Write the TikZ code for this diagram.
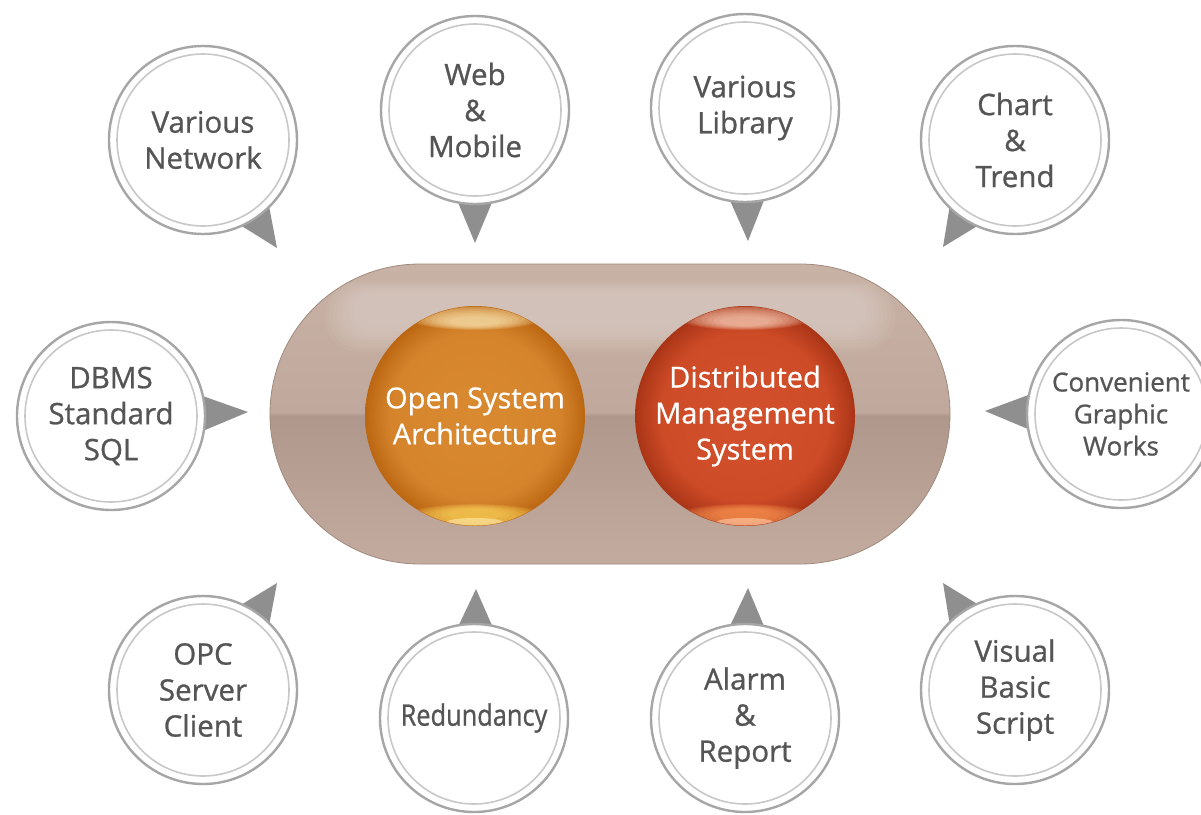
\documentclass[tikz,border=0pt]{standalone}
\usepackage{fontspec}
\setmainfont{Open Sans}[FakeBold=0.9]
\newfontfamily\ballfont{Open Sans}[FakeBold=0.6]
\usetikzlibrary{calc,shapes.geometric,shapes.misc,backgrounds}
\definecolor{ringout}{HTML}{A6A6A6}
\definecolor{ringin}{HTML}{C8C8C8}
\definecolor{ptrgray}{HTML}{8F8F8F}
\definecolor{txtgray}{HTML}{555555}
\definecolor{pillborder}{HTML}{A08A7D}
\definecolor{pilltop}{HTML}{C8B2A5}
\definecolor{pillmidup}{HTML}{C0A99C}
\definecolor{pillmiddn}{HTML}{AF988B}
\definecolor{pillbot}{HTML}{C3AC9F}
\definecolor{obright}{HTML}{D98A30}
\definecolor{omid}{HTML}{D5842C}
\definecolor{odark}{HTML}{BB6612}
\definecolor{oglow}{HTML}{FFD85E}
\definecolor{rbright}{HTML}{D2512C}
\definecolor{rmid}{HTML}{CE4B27}
\definecolor{rdark}{HTML}{A83416}
\definecolor{rglow}{HTML}{FF9A55}
\pgfdeclareverticalshading{pillshade}{100bp}{color(0bp)=(pillbot); color(25bp)=(pillbot); color(49.7bp)=(pillmiddn); color(50.3bp)=(pillmidup); color(75bp)=(pilltop); color(100bp)=(pilltop)}
\pgfdeclareradialshading{orangeball}{\pgfpoint{0bp}{0bp}}{color(0bp)=(obright); color(19bp)=(omid); color(23.5bp)=(odark!70!omid); color(25bp)=(odark); color(50bp)=(odark)}
\pgfdeclareradialshading{redball}{\pgfpoint{0bp}{0bp}}{color(0bp)=(rbright); color(19bp)=(rmid); color(23.5bp)=(rdark!70!rmid); color(25bp)=(rdark); color(50bp)=(rdark)}
\tikzset{
  bubble/.style={circle, draw=ringout, line width=2.4pt, fill=white, minimum size=188pt, inner sep=0pt,
    align=center, text=txtgray, font=\fontsize{29.5}{36}\selectfont,
    path picture={\draw[ringin, line width=1.6pt] (path picture bounding box.center) circle (86pt);}},
  ptr/.style={fill=ptrgray},
  ballnode/.style={circle, minimum size=220pt, inner sep=0pt},
  balltext/.style={align=center, text=white, font=\ballfont\fontsize{29}{36}\selectfont},
}
\begin{document}
\begin{tikzpicture}[x=1pt,y=-1pt]
\useasboundingbox (0,0) rectangle (1201,814);

% central pill
\node[rounded rectangle, minimum width=680pt, minimum height=300pt, inner sep=0pt,
      shading=pillshade, draw=pillborder, line width=0.8pt] (pill) at (610,414) {};
% soft gloss on the pill
\foreach \k in {0,...,7}
  \fill[white, fill opacity=0.04, rounded corners={34pt-2*\k pt}]
    ($(pill.center)+(-285+4*\k,-132+1.5*\k)$) rectangle ($(pill.center)+(285-4*\k,-62-3*\k)$);

% balls
\node[ballnode, shading=orangeball] (osa) at (475,416) {};
\node[ballnode, shading=redball] (dms) at (745,416) {};
\begin{scope}
  \clip (osa.center) circle (109.5pt);
  \foreach \k in {0,...,7}{
    \fill[white!60!oglow, fill opacity=0.14] ($(osa.center)+(0,-99+0.6*\k)$) ellipse ({68-6*\k} and {13-1.2*\k});
    \fill[oglow, fill opacity=0.15] ($(osa.center)+(0,103-0.6*\k)$) ellipse ({76-7*\k} and {15-1.3*\k});
  }
  \fill[white!50!oglow, fill opacity=0.6] ($(osa.center)+(0,106)$) ellipse (28 and 4);
\end{scope}
\begin{scope}
  \clip (dms.center) circle (109.5pt);
  \foreach \k in {0,...,7}{
    \fill[white!70!rglow, fill opacity=0.13] ($(dms.center)+(0,-99+0.6*\k)$) ellipse ({68-6*\k} and {13-1.2*\k});
    \fill[rglow, fill opacity=0.15] ($(dms.center)+(0,103-0.6*\k)$) ellipse ({76-7*\k} and {15-1.3*\k});
  }
  \fill[white!50!rglow, fill opacity=0.6] ($(dms.center)+(0,106)$) ellipse (28 and 4);
\end{scope}
\node[balltext] (osat) at ($(osa.center)+(0,0)$) {Open System\\Architecture};
\node[balltext] (dmst) at ($(dms.center)+(0,0)$) {Distributed\\Management\\System};

% bubbles
\node[bubble] (c1) at (203,140) {Various\\Network};
\node[bubble] (c2) at (475,110) {Web\\\&\\Mobile};
\node[bubble] (c3) at (745,108) {Various\\Library};
\node[bubble] (c4) at (1015,140) {Chart\\\&\\Trend};
\node[bubble] (c5) at (111,416) {DBMS\\Standard\\SQL};
\node[bubble, font=\fontsize{26}{32}\selectfont] (c6) at (1121,414) {Convenient\\Graphic\\Works};
\node[bubble] (c7) at (203,690) {OPC\\Server\\Client};
\node[bubble] (c8) at (474,718) {\scalebox{0.86}[1]{Redundancy}};
\node[bubble] (c9) at (745,718) {Alarm\\\&\\Report};
\node[bubble] (c10) at (1015,690) {Visual\\Basic\\Script};

% pointer tips
\coordinate (t1) at (277,248);
\coordinate (t2) at (475,243);
\coordinate (t3) at (748,241);
\coordinate (t4) at (943,247);
\coordinate (t5) at (248,412);
\coordinate (t6) at (985,411);
\coordinate (t7) at (277,583);
\coordinate (t8) at (476,589);
\coordinate (t9) at (748,588);
\coordinate (t10) at (943,583);

\begin{scope}[on background layer]
\fill[white] (0,0) rectangle (1201,814);
\foreach \i in {1,...,10}
  \fill[ptr] ($(c\i.center)!88pt!13:(t\i)$) -- (t\i) -- ($(c\i.center)!88pt!-13:(t\i)$) -- cycle;
\end{scope}
\end{tikzpicture}
\end{document}
